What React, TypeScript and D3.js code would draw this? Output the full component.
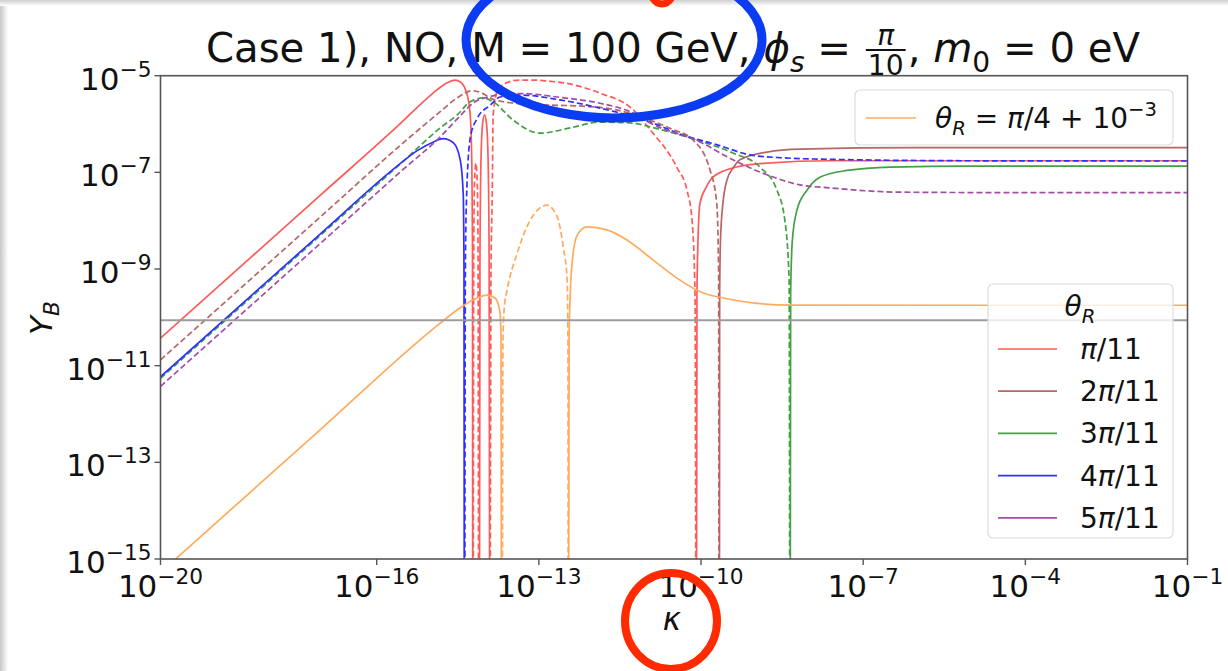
import React, { useEffect, useRef } from "react";
import * as d3 from "d3";

const WIDTH = 1228;
const HEIGHT = 671;

// ---- axes ----
const kappaMinExp = -20;
const kappaMaxExp = -1;
const ybMinExp = -15;
const ybMaxExp = -5;
const xTickExps = [-20, -16, -13, -10, -7, -4, -1];
const yTickExps = [-15, -13, -11, -9, -7, -5];
const observedYB = 8.7e-11;

// ---- legend labels ----
const thetaLabels = ["π/11", "2π/11", "3π/11", "4π/11", "5π/11"];
const specialLabel = "π/4 + 10";

// ---- data: [log10 kappa, log10 |Y_B|]; solid = Y_B > 0, dashed = Y_B < 0 ----
// theta_R = pi/11
const red_pos_1 = [[-20, -10.43], [-17, -7.43], [-15.6, -6.03], [-15.0, -5.40], [-14.75, -5.18], [-14.55, -5.09], [-14.45, -5.13], [-14.33, -5.38], [-14.27, -5.81], [-14.24, -6.85], [-14.228, -8.4], [-14.223, -17]];
const red_neg_1 = [[-14.215, -17], [-14.205, -8.6], [-14.19, -7.2], [-14.165, -6.81], [-14.14, -7.2], [-14.125, -8.6], [-14.115, -17]];
const red_pos_2 = [[-14.1, -17], [-14.09, -8.8], [-14.07, -6.7], [-14.04, -5.98], [-14.005, -5.81], [-13.97, -5.98], [-13.94, -6.7], [-13.92, -8.8], [-13.91, -17]];
const red_neg_2 = [[-13.9, -17], [-13.885, -9.0], [-13.863, -7.47], [-13.845, -5.8], [-13.75, -5.27], [-13.586, -5.14], [-13.35, -5.09], [-13.1, -5.09], [-12.75, -5.12], [-12.48, -5.16], [-11.87, -5.36], [-11.26, -5.7], [-10.94, -6.12], [-10.44, -6.91], [-10.26, -7.37], [-10.166, -7.99], [-10.11, -9.6], [-10.095, -17]];
const red_pos_3 = [[-10.085, -17], [-10.075, -9.5], [-10.05, -8.2], [-10.02, -7.64], [-9.9, -7.3], [-9.78, -7.1], [-9.34, -6.89], [-8.78, -6.81], [-7.62, -6.76], [-5, -6.76], [-1, -6.76]];
// theta_R = 2pi/11
const brown_neg_1 = [[-20, -10.88], [-17, -7.88], [-15.5, -6.38], [-14.82, -5.74], [-14.5, -5.45], [-14.24, -5.31], [-14.05, -5.36], [-13.9, -5.46], [-13.6, -5.55], [-13.0, -5.6], [-12.2, -5.63], [-11.6, -5.7], [-10.94, -5.92], [-10.55, -6.1], [-10.148, -6.33], [-9.834, -6.95], [-9.71, -7.63], [-9.675, -9.0], [-9.668, -17]];
const brown_pos_1 = [[-9.66, -17], [-9.655, -9.5], [-9.64, -8.4], [-9.6, -7.7], [-9.52, -7.16], [-9.4, -6.9], [-9.28, -6.74], [-8.78, -6.58], [-8.17, -6.52], [-6, -6.49], [-1, -6.49]];
// theta_R = 3pi/11
const green_neg_1 = [[-20, -11.26], [-17, -8.26], [-15.5, -6.76], [-14.824, -6.08], [-14.51, -5.81], [-14.27, -5.54], [-14.03, -5.46], [-13.845, -5.54], [-13.475, -5.92], [-12.976, -6.19], [-12.42, -6.08], [-11.867, -5.96], [-11.257, -5.98], [-10.943, -6.06], [-10.2, -6.29], [-9.41, -6.6], [-8.91, -6.89], [-8.595, -7.37], [-8.45, -7.99], [-8.37, -9.23], [-8.358, -17]];
const green_pos_1 = [[-8.35, -17], [-8.342, -9.5], [-8.31, -8.4], [-8.225, -7.78], [-8.04, -7.37], [-7.8, -7.1], [-7.3, -6.96], [-6.5, -6.89], [-5, -6.87], [-1, -6.87]];
// theta_R = 4pi/11
const blue_pos_1 = [[-20, -11.23], [-17, -8.23], [-15.6, -6.85], [-15.25, -6.55], [-14.95, -6.37], [-14.77, -6.3], [-14.58, -6.39], [-14.455, -6.74], [-14.4, -7.43], [-14.385, -9.0], [-14.38, -17]];
const blue_neg_1 = [[-14.37, -17], [-14.36, -9.0], [-14.34, -7.6], [-14.27, -6.29], [-14.14, -5.88], [-13.9, -5.61], [-13.715, -5.44], [-13.35, -5.4], [-12.61, -5.5], [-11.87, -5.67], [-10.94, -5.96], [-10.33, -6.23], [-9.7, -6.43], [-9.09, -6.64], [-8.48, -6.7], [-7.62, -6.73], [-5, -6.76], [-1, -6.765]];
// theta_R = 5pi/11
const purple_neg_1 = [[-20, -11.43], [-17, -8.43], [-15.5, -6.93], [-14.82, -6.26], [-14.455, -5.83], [-14.21, -5.56], [-13.9, -5.43], [-13.6, -5.37], [-13.3, -5.37], [-12.6, -5.45], [-11.87, -5.57], [-11.26, -5.77], [-10.94, -5.98], [-10.02, -6.37], [-9.41, -6.74], [-8.78, -7.05], [-8.17, -7.26], [-7.62, -7.32], [-6.32, -7.41], [-4, -7.42], [-1, -7.42]];
// theta_R = pi/4 + 1e-3
const orange_pos_1 = [[-20, -15.28], [-17, -12.28], [-15, -10.28], [-14.6, -9.92], [-14.4, -9.76], [-14.14, -9.6], [-13.956, -9.54], [-13.81, -9.6], [-13.74, -9.78], [-13.715, -9.95], [-13.7, -10.4], [-13.693, -17]];
const orange_neg_1 = [[-13.675, -17], [-13.665, -10.5], [-13.64, -9.8], [-13.586, -9.43], [-13.4, -8.67], [-13.16, -7.99], [-12.85, -7.68], [-12.66, -7.92], [-12.55, -8.54], [-12.477, -9.23], [-12.462, -10.5], [-12.458, -17]];
const orange_pos_2 = [[-12.45, -17], [-12.44, -10.3], [-12.385, -8.87], [-12.29, -8.3], [-12.11, -8.13], [-11.74, -8.19], [-11.37, -8.4], [-10.89, -8.81], [-10.39, -9.23], [-10.02, -9.47], [-9.59, -9.6], [-8.965, -9.71], [-8.355, -9.745], [-5, -9.75], [-1, -9.75]];

// ---- styles ----
const FONT = "'DejaVu Sans', sans-serif";
const COLORS: Record<string, string> = {
  red: "#ff5a5a",
  brown: "#b86563",
  green: "#43a043",
  blue: "#2f2fff",
  purple: "#a64ca6",
  orange: "#ffab5e",
};
const legendColorKeys = ["red", "brown", "green", "blue", "purple"];

const SEGMENTS: { pts: number[][]; c: string; dashed: boolean }[] = [
  { pts: red_pos_1, c: "red", dashed: false },
  { pts: red_neg_1, c: "red", dashed: true },
  { pts: red_pos_2, c: "red", dashed: false },
  { pts: red_neg_2, c: "red", dashed: true },
  { pts: red_pos_3, c: "red", dashed: false },
  { pts: brown_neg_1, c: "brown", dashed: true },
  { pts: brown_pos_1, c: "brown", dashed: false },
  { pts: green_neg_1, c: "green", dashed: true },
  { pts: green_pos_1, c: "green", dashed: false },
  { pts: blue_pos_1, c: "blue", dashed: false },
  { pts: blue_neg_1, c: "blue", dashed: true },
  { pts: purple_neg_1, c: "purple", dashed: true },
  { pts: orange_pos_1, c: "orange", dashed: false },
  { pts: orange_neg_1, c: "orange", dashed: true },
  { pts: orange_pos_2, c: "orange", dashed: false },
];

type Run = { t: string; it?: boolean; sub?: boolean; sup?: boolean };

function mathText(g: any, x: number, y: number, runs: Run[], size: number, anchor: string) {
  const text = g
    .append("text")
    .attr("x", x)
    .attr("y", y)
    .attr("font-size", size)
    .attr("font-family", FONT)
    .attr("text-anchor", anchor)
    .attr("fill", "#111")
    .style("white-space", "pre");
  let cur = 0;
  runs.forEach((r) => {
    const target = r.sub ? size * 0.24 : r.sup ? -size * 0.42 : 0;
    const ts = text.append("tspan").attr("dy", target - cur).text(r.t);
    cur = target;
    if (r.sub || r.sup) ts.attr("font-size", size * 0.7);
    if (r.it) ts.attr("font-style", "italic");
  });
  return text;
}

function piRuns(label: string): Run[] {
  const parts = label.split("π");
  const runs: Run[] = [];
  parts.forEach((p, i) => {
    if (p) runs.push({ t: p });
    if (i < parts.length - 1) runs.push({ t: "π", it: true });
  });
  return runs;
}

function draw(node: SVGSVGElement) {
  const svg = d3.select(node);
  svg.selectAll("*").remove();

  const L = 160.5, R = 1187.5, T = 75.7, B = 559;
  const x = d3.scaleLog().domain([10 ** kappaMinExp, 10 ** kappaMaxExp]).range([L, R]);
  const y = d3.scaleLog().domain([10 ** ybMinExp, 10 ** ybMaxExp]).range([B, T]);

  svg.append("rect").attr("width", WIDTH).attr("height", HEIGHT).attr("fill", "#fff");

  // screenshot edges
  const defs = svg.append("defs");
  const lg = defs.append("linearGradient").attr("id", "edgeL").attr("x1", 0).attr("x2", 1).attr("y1", 0).attr("y2", 0);
  lg.append("stop").attr("offset", 0).attr("stop-color", "#c8c8c8");
  lg.append("stop").attr("offset", 1).attr("stop-color", "#ffffff");
  const tg0 = defs.append("linearGradient").attr("id", "edgeT").attr("x1", 0).attr("x2", 0).attr("y1", 0).attr("y2", 1);
  tg0.append("stop").attr("offset", 0).attr("stop-color", "#cfcfcf");
  tg0.append("stop").attr("offset", 1).attr("stop-color", "#ffffff");
  svg.append("rect").attr("x", 0).attr("y", 0).attr("width", 8).attr("height", HEIGHT).attr("fill", "url(#edgeL)");
  svg.append("rect").attr("x", 0).attr("y", 0).attr("width", WIDTH).attr("height", 6).attr("fill", "url(#edgeT)");

  defs.append("clipPath").attr("id", "plotClip").append("rect").attr("x", L).attr("y", T).attr("width", R - L).attr("height", B - T);

  const line = d3
    .line<number[]>()
    .x((d) => x(10 ** d[0]))
    .y((d) => y(10 ** d[1]))
    .curve(d3.curveMonotoneX);

  const plot = svg.append("g").attr("clip-path", "url(#plotClip)");
  SEGMENTS.forEach((s) => {
    plot
      .append("path")
      .attr("d", line(s.pts) as string)
      .attr("fill", "none")
      .attr("stroke", COLORS[s.c])
      .attr("stroke-width", 1.7)
      .attr("stroke-dasharray", s.dashed ? "6,3" : null);
  });
  plot
    .append("line")
    .attr("x1", L)
    .attr("x2", R)
    .attr("y1", y(observedYB))
    .attr("y2", y(observedYB))
    .attr("stroke", "#9c9c9c")
    .attr("stroke-width", 2);

  // spines
  svg
    .append("rect")
    .attr("x", L)
    .attr("y", T)
    .attr("width", R - L)
    .attr("height", B - T)
    .attr("fill", "none")
    .attr("stroke", "#555")
    .attr("stroke-width", 1.6);

  // y ticks
  yTickExps.forEach((e) => {
    const yy = y(10 ** e);
    svg.append("line").attr("x1", L - 6).attr("x2", L).attr("y1", yy).attr("y2", yy).attr("stroke", "#555").attr("stroke-width", 1.4);
    mathText(svg, L - 9, yy + 14, [{ t: "10" }, { t: "−" + Math.abs(e), sup: true }], 31, "end");
  });
  // x ticks
  xTickExps.forEach((e) => {
    const xx = x(10 ** e);
    svg.append("line").attr("x1", xx).attr("x2", xx).attr("y1", B).attr("y2", B + 6).attr("stroke", "#555").attr("stroke-width", 1.4);
    mathText(svg, xx, B + 38, [{ t: "10" }, { t: "−" + Math.abs(e), sup: true }], 31, "middle");
  });

  // axis labels
  mathText(svg, (L + R) / 2 - 2, 630, [{ t: "κ", it: true }], 31, "middle");
  const yl = svg.append("g").attr("transform", "translate(52,318) rotate(-90)");
  mathText(yl, 0, 0, [{ t: "Y", it: true }, { t: "B", it: true, sub: true }], 31, "middle");

  // title
  const tgroup = svg.append("g");
  const TS = 40.2, TB = 62;
  const partA = mathText(tgroup, 0, TB, [{ t: "Case 1), NO, M = 100 GeV, " }, { t: "ϕ", it: true }, { t: "s", it: true, sub: true }, { t: " = " }], TS, "start");
  let cx = (partA.node() as SVGTextElement).getComputedTextLength();
  const fsz = TS * 0.7;
  const den = tgroup.append("text").attr("font-family", FONT).attr("font-size", fsz).attr("text-anchor", "middle").attr("fill", "#111").text("10");
  const denW = (den.node() as SVGTextElement).getComputedTextLength();
  const fw = denW + 4;
  const fcx = cx + 2 + fw / 2;
  const barY = TB - 12;
  den.attr("x", fcx).attr("y", barY + 25);
  tgroup.append("text").attr("font-family", FONT).attr("font-size", fsz).attr("font-style", "italic").attr("text-anchor", "middle").attr("fill", "#111").attr("x", fcx).attr("y", barY - 5).text("π");
  tgroup.append("line").attr("x1", cx + 2).attr("x2", cx + 2 + fw).attr("y1", barY).attr("y2", barY).attr("stroke", "#111").attr("stroke-width", 2);
  cx = cx + fw + 4;
  const partC = mathText(tgroup, cx, TB, [{ t: ", " }, { t: "m", it: true }, { t: "0", sub: true }, { t: " = 0 eV" }], TS, "start");
  const total = cx + (partC.node() as SVGTextElement).getComputedTextLength();
  tgroup.attr("transform", `translate(${(L + R) / 2 - 1 - total / 2},0)`);

  // legend 1 (special theta)
  svg.append("rect").attr("x", 855).attr("y", 90).attr("width", 318).attr("height", 55).attr("rx", 5).attr("fill", "#fff").attr("fill-opacity", 0.8).attr("stroke", "#dcdcdc").attr("stroke-width", 1.2);
  svg.append("line").attr("x1", 866).attr("x2", 916).attr("y1", 118).attr("y2", 118).attr("stroke", COLORS.orange).attr("stroke-width", 1.7);
  mathText(svg, 935, 128, [{ t: "θ", it: true }, { t: "R", it: true, sub: true }, { t: " = " }, ...piRuns(specialLabel), { t: "−3", sup: true }], 28, "start");

  // legend 2
  svg.append("rect").attr("x", 988).attr("y", 284).attr("width", 185).attr("height", 254).attr("rx", 5).attr("fill", "#fff").attr("fill-opacity", 0.8).attr("stroke", "#dcdcdc").attr("stroke-width", 1.2);
  mathText(svg, 1080, 316, [{ t: "θ", it: true }, { t: "R", it: true, sub: true }], 28, "middle");
  thetaLabels.forEach((lab, i) => {
    const yy = 349 + i * 42.2;
    svg.append("line").attr("x1", 998).attr("x2", 1057).attr("y1", yy).attr("y2", yy).attr("stroke", COLORS[legendColorKeys[i]]).attr("stroke-width", 1.7);
    mathText(svg, 1080, yy + 10, piRuns(lab), 28, "start");
  });

  // hand-drawn annotations
  svg.append("ellipse").attr("cx", 614).attr("cy", 40).attr("rx", 148).attr("ry", 78).attr("fill", "none").attr("stroke", "#0b3cf2").attr("stroke-width", 9);
  svg.append("ellipse").attr("cx", 671).attr("cy", 621).attr("rx", 46).attr("ry", 48).attr("fill", "none").attr("stroke", "#ff2a00").attr("stroke-width", 8);
  svg.append("ellipse").attr("cx", 662).attr("cy", -18).attr("rx", 14).attr("ry", 22).attr("fill", "none").attr("stroke", "#ff2a00").attr("stroke-width", 7);

  // cut-off caption
  svg.append("text").attr("x", 283).attr("y", 694).attr("font-family", FONT).attr("font-size", 31).attr("fill", "#111").text("(a)");
}

export default function App() {
  const ref = useRef<SVGSVGElement>(null);
  useEffect(() => {
    document.body.style.margin = "0";
    if (ref.current) draw(ref.current);
  }, []);
  return (
    <svg
      ref={ref}
      width={WIDTH}
      height={HEIGHT}
      style={{ position: "absolute", left: 0, top: 0, display: "block" }}
    />
  );
}
